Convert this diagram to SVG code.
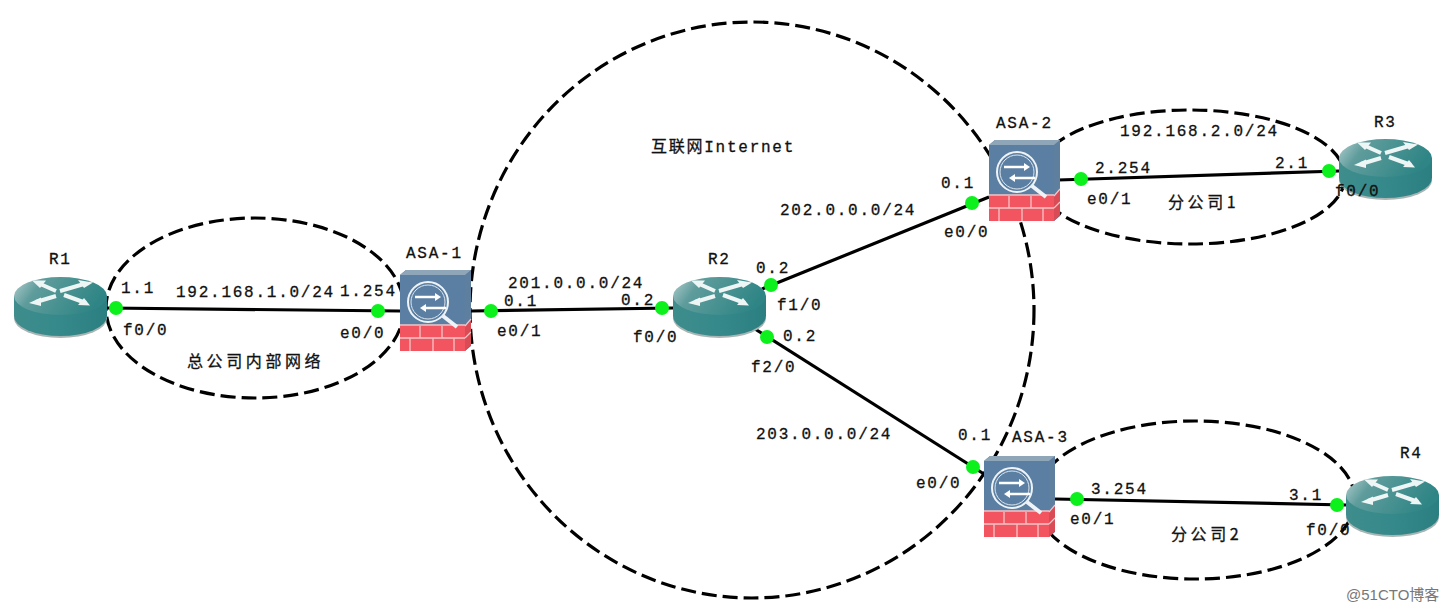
<svg xmlns="http://www.w3.org/2000/svg" width="1453" height="612" viewBox="0 0 1453 612">
<style>
.zone{fill:none;stroke:#000;stroke-width:3.2;stroke-dasharray:15 6}
.link{stroke:#000;stroke-width:3.2;fill:none}
.dot{fill:#0cf01c}
text{font-family:"Liberation Mono","Noto Sans CJK SC",monospace;font-size:16px;letter-spacing:1.75px;fill:#111;stroke:#111;stroke-width:.3}
.cjk{font-family:"Noto Sans CJK SC",sans-serif;font-size:16px;letter-spacing:3.6px}
.mark{font-family:"Liberation Sans","Noto Sans CJK SC",sans-serif;font-size:15px;letter-spacing:0;fill:#777;stroke:none}
.arrow{stroke:#eef5f5;stroke-width:4;fill:none}
.head{fill:#eef5f5}
</style>
<defs>
<linearGradient id="routerTop" x1="0" y1="0" x2="1" y2="0.3"><stop offset="0" stop-color="#b6d0d0"/><stop offset=".3" stop-color="#5f9c9c"/><stop offset="1" stop-color="#2f8585"/></linearGradient>
<linearGradient id="routerSide" x1="0" y1="0" x2="1" y2="0"><stop offset="0" stop-color="#3f8d8d"/><stop offset=".5" stop-color="#35898a"/><stop offset="1" stop-color="#2c7f80"/></linearGradient>
<g id="router">
<ellipse cx="46.5" cy="41.5" rx="46.5" ry="19.5" fill="#a9b5b5"/>
<path d="M0 19V39A46.5 20 0 0 0 93 39V19Z" fill="url(#routerSide)"/>
<ellipse cx="46.5" cy="19" rx="46.5" ry="19" fill="url(#routerTop)"/>
<!-- four crossing arrows on the router lid -->
<path class="arrow" d="M24 6L42 14M46 14L70 7M42 19L22 25M50 18L72 26"/>
<path class="head" d="M18 3.5H32L26 11Z"/>
<path class="head" d="M64 3L79 5.5L70 11Z"/>
<path class="head" d="M15 26L27 20.5L27 29Z"/>
<path class="head" d="M76 28.5L64 28L70 21Z"/>
</g>
<g id="firewall">
<path d="M0 5L6 0H71V76L65 81Z" fill="#4f6f8f"/>
<path d="M65 5L71 0V55L65 55Z" fill="#5f7f9f"/>
<path d="M0 5L6 0H71L65 5Z" fill="#8fa5b8"/>
<rect x="0" y="5" width="65" height="51" fill="#5b7fa3"/>
<path d="M0 56H65V81H0Z" fill="#f25560"/>
<path d="M65 56L71 49V75L65 81Z" fill="#d94b55"/>
<path d="M0 55H65M0 68H65M20 56V68M42 56V68M10 68V81M33 68V81M54 68V81" stroke="#f3c6c8" stroke-width="1.3" fill="none"/>
<path d="M65 56L71 49M65 68L71 62" stroke="#f3c6c8" stroke-width="1.2"/>
<!-- magnifier with two opposed arrows -->
<circle cx="28" cy="32" r="20" fill="#5b7fa3" stroke="#eef3f7" stroke-width="2"/>
<circle cx="28" cy="32" r="17" fill="none" stroke="#dde6ee" stroke-width="1"/>
<path d="M43 46L57 57" stroke="#eef3f7" stroke-width="4"/>
<path d="M15 27H36" stroke="#fff" stroke-width="2.5"/><path d="M35 23L41 27L35 31Z" fill="#fff"/>
<path d="M25 38H46" stroke="#fff" stroke-width="2.5"/><path d="M26 34L20 38L26 42Z" fill="#fff"/>
</g>
</defs>

<!-- dashed network zones -->
<g id="zones">
<ellipse class="zone" cx="255" cy="308" rx="149" ry="90"/>
<ellipse class="zone" cx="752" cy="310" rx="282" ry="288"/>
<ellipse class="zone" cx="1190" cy="177" rx="155" ry="67"/>
<ellipse class="zone" cx="1195" cy="500" rx="160" ry="79"/>
</g>

<!-- connectors -->
<g id="connectors">
<path class="link" d="M107 308L400 311"/>
<path class="link" d="M471 311L673 308"/>
<path class="link" d="M762 289L989 197"/>
<path class="link" d="M755 329L984 474"/>
<path class="link" d="M1058 180L1339 171"/>
<path class="link" d="M1055 499L1346 505"/>
</g>

<g id="R1"><use href="#router" x="14" y="277"/><text x="49" y="264">R1</text></g>
<g id="R2"><use href="#router" x="673" y="277"/><text x="708" y="264">R2</text></g>
<g id="R3"><use href="#router" x="1339" y="139"/><text x="1374" y="127">R3</text></g>
<g id="R4"><use href="#router" x="1346" y="476"/><text x="1400" y="458">R4</text></g>
<g id="ASA-1"><use href="#firewall" x="400" y="270"/><text x="406" y="258">ASA-1</text></g>
<g id="ASA-2"><use href="#firewall" x="989" y="140"/><text x="996" y="128">ASA-2</text></g>
<g id="ASA-3"><use href="#firewall" x="984" y="456"/><text x="1012" y="442">ASA-3</text></g>

<!-- interface markers -->
<g id="ports">
<circle class="dot" cx="116" cy="308" r="7"/><circle class="dot" cx="378" cy="311" r="7"/>
<circle class="dot" cx="491" cy="311" r="7"/><circle class="dot" cx="662" cy="308" r="7"/>
<circle class="dot" cx="771" cy="285" r="7"/><circle class="dot" cx="972" cy="203" r="7"/>
<circle class="dot" cx="767" cy="337" r="7"/><circle class="dot" cx="973" cy="467" r="7"/>
<circle class="dot" cx="1081" cy="179" r="7"/><circle class="dot" cx="1329" cy="171" r="7"/>
<circle class="dot" cx="1077" cy="499" r="7"/><circle class="dot" cx="1337" cy="505" r="7"/>
</g>

<g id="labels">
<text x="121" y="293">1.1</text>
<text x="176" y="297">192.168.1.0/24</text>
<text x="340" y="296">1.254</text>
<text x="123" y="335">f0/0</text>
<text x="340" y="338">e0/0</text>
<text class="cjk" x="187" y="367">总公司内部网络</text>
<text x="497" y="336">e0/1</text>
<text x="508" y="288">201.0.0.0/24</text>
<text x="504" y="306">0.1</text>
<text x="621" y="305">0.2</text>
<text x="633" y="342">f0/0</text>
<text x="756" y="273">0.2</text>
<text x="777" y="310">f1/0</text>
<text x="783" y="341">0.2</text>
<text x="751" y="372">f2/0</text>
<text x="780" y="215">202.0.0.0/24</text>
<text x="941" y="188">0.1</text>
<text x="944" y="237">e0/0</text>
<text x="756" y="439">203.0.0.0/24</text>
<text x="958" y="440">0.1</text>
<text x="916" y="488">e0/0</text>
<text x="651" y="152">互联网Internet</text>
<text x="1120" y="136">192.168.2.0/24</text>
<text x="1095" y="173">2.254</text>
<text x="1275" y="168">2.1</text>
<text x="1087" y="204">e0/1</text>
<text x="1335" y="196">f0/0</text>
<text class="cjk" x="1168" y="208">分公司1</text>
<text x="1091" y="494">3.254</text>
<text x="1289" y="500">3.1</text>
<text x="1070" y="524">e0/1</text>
<text x="1306" y="535">f0/0</text>
<text class="cjk" x="1171" y="540">分公司2</text>
<text class="mark" x="1346" y="600">@51CTO博客</text>
</g>
</svg>
